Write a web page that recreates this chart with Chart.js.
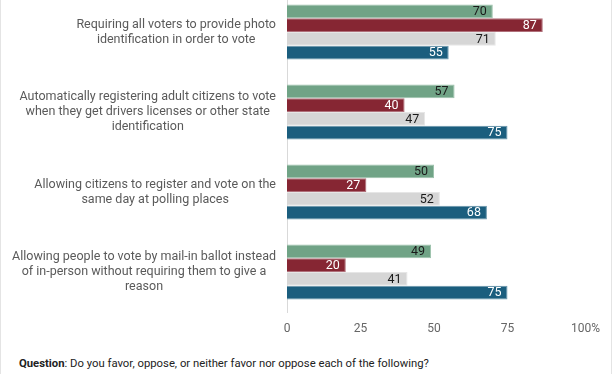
<!DOCTYPE html>
<html>
<head>
<meta charset="utf-8">
<script src="https://cdn.jsdelivr.net/npm/chart.js@4.4.1/dist/chart.umd.min.js"></script>
<style>
  html, body { margin: 0; padding: 0; background: #fff; }
  #frame { position: relative; width: 612px; height: 374px; overflow: hidden; box-sizing: border-box; border-left: 1px solid #e4e4e4; border-right: 1px solid #e4e4e4; }
  #wrap { position: absolute; left: -1px; top: -8px; width: 612px; height: 350px; }
  #note { position: absolute; left: 18px; top: 357px; font: 11.3px Roboto, sans-serif; color: #222; white-space: nowrap; }
</style>
</head>
<body>
<div id="frame">
  <div id="wrap"><canvas id="c" width="612" height="350"></canvas></div>
  <div id="note"><b>Question</b>: Do you favor, oppose, or neither favor nor oppose each of the following?</div>
</div>
<script>
const categories = [
  ["Requiring all voters to provide photo", "identification in order to vote"],
  ["Automatically registering adult citizens to vote", "when they get drivers licenses or other state", "identification"],
  ["Allowing citizens to register and vote on the", "same day at polling places"],
  ["Allowing people to vote by mail-in ballot instead", "of in-person without requiring them to give a", "reason"]
];
const seriesNames = ["All adults", "Republicans", "Independents", "Democrats"];
const allAdults    = [70, 57, 50, 49];
const republicans  = [87, 40, 27, 20];
const independents = [71, 47, 52, 41];
const democrats    = [55, 75, 68, 75];
const xTicks = [0, 25, 50, 75, 100];

const fills   = ["#70a386", "#862633", "#d6d6d6", "#1b5e7e"];
const borders = ["#9cc2ac", "#b0707a", "#e6e6e6", "#6a97ad"];
const labelColors = ["#1a1a1a", "#ffffff", "#1a1a1a", "#ffffff"];
const seriesData = [allAdults, republicans, independents, democrats];

const valueLabels = {
  id: 'valueLabels',
  afterDatasetsDraw(chart) {
    const ctx = chart.ctx;
    ctx.save();
    ctx.font = '12.5px Roboto, sans-serif';
    ctx.textAlign = 'right';
    ctx.textBaseline = 'middle';
    chart.data.datasets.forEach((ds, di) => {
      const meta = chart.getDatasetMeta(di);
      meta.data.forEach((bar, i) => {
        ctx.fillStyle = labelColors[di];
        ctx.fillText(String(ds.data[i]), bar.x - 6, bar.y + 0.5);
      });
    });
    ctx.restore();
  }
};

const catLabels = {
  id: 'catLabels',
  afterDraw(chart) {
    const ctx = chart.ctx;
    const y = chart.scales.y;
    ctx.save();
    ctx.font = '12.5px Roboto, sans-serif';
    ctx.fillStyle = '#5a5a5a';
    ctx.textAlign = 'center';
    ctx.textBaseline = 'middle';
    const rightEdge = 276;
    const lh = 15;
    categories.forEach((lines, i) => {
      const cy = y.getPixelForValue(i);
      const maxW = Math.max(...lines.map(l => ctx.measureText(l).width));
      const cx = rightEdge - maxW / 2;
      const start = cy - (lines.length - 1) * lh / 2;
      lines.forEach((l, k) => ctx.fillText(l, cx, start + k * lh));
    });
    ctx.restore();
  }
};

new Chart(document.getElementById('c'), {
  type: 'bar',
  data: {
    labels: categories.map(c => c.join(' ')),
    datasets: seriesData.map((d, i) => ({
      label: seriesNames[i],
      data: d,
      backgroundColor: fills[i],
      borderColor: borders[i],
      borderWidth: 1,
      borderSkipped: 'start',
      barPercentage: 1.0,
      categoryPercentage: 0.6875
    }))
  },
  options: {
    indexAxis: 'y',
    responsive: false,
    animation: false,
    devicePixelRatio: 1,
    layout: { padding: { left: 0, right: 31, top: 0, bottom: 0 } },
    plugins: { legend: { display: false }, tooltip: { enabled: false } },
    scales: {
      x: {
        min: 0, max: 100,
        afterBuildTicks(s) { s.ticks = xTicks.map(v => ({ value: v })); },
        afterFit(s) { s.height = 30; },
        grid: { display: false, drawTicks: false },
        border: { display: false },
        ticks: {
          padding: 10,
          color: '#666666',
          font: { family: 'Roboto', size: 12 },
          callback: v => v === 100 ? '   100%' : String(v)
        }
      },
      y: {
        afterFit(s) { s.width = 287; },
        grid: { display: false, drawTicks: false },
        border: { display: true, color: '#d9d9d9', width: 1 },
        ticks: { display: false }
      }
    }
  },
  plugins: [valueLabels, catLabels]
});
</script>
</body>
</html>
